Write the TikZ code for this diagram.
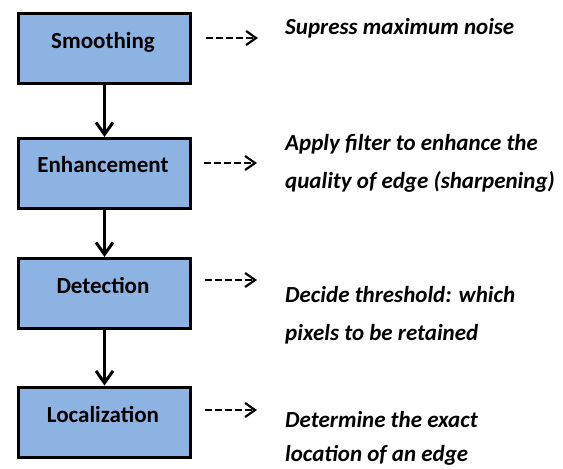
\documentclass[tikz,border=0pt]{standalone}
\usepackage{fontspec}
\setmainfont{Carlito}
\usetikzlibrary{arrows.meta}
\definecolor{boxblue}{HTML}{8DB3E2}
\begin{document}
\begin{tikzpicture}[x=1pt,y=-1pt,
  stage/.style={draw=black, line width=3pt, fill=boxblue, minimum width=172pt, minimum height=70pt, inner sep=0pt},
  stagetext/.style={anchor=base, inner sep=0pt, font=\fontsize{23}{27}\selectfont\bfseries},
  flow/.style={line width=3pt, -{Straight Barb[length=12pt,width=17pt,line width=3pt]}},
  hint/.style={line width=2.2pt, dash pattern=on 6.5pt off 3.5pt, -{Straight Barb[length=10pt,width=14pt,line width=2.2pt]}},
  desc/.style={anchor=base west, align=left, inner sep=0pt, font=\fontsize{23}{38}\selectfont\bfseries\itshape}]
\useasboundingbox (0,0) rectangle (563,469);
\fill[white] (0,0) rectangle (563,469);
% boxes
\node[stage] (s1) at (104.5,48.5) {};
\node[stage] (s2) at (104.5,173.5) {};
\node[stage] (s3) at (104.5,293.5) {};
\node[stage] (s4) at (104.5,422) {};
\node[stagetext] (t1) at (103,48) {Smoothing};
\node[stagetext] (t2) at (103,172) {Enhancement};
\node[stagetext] (t3) at (103,293) {Detection};
\node[stagetext] (t4) at (103,422) {Localization};
% flow arrows
\draw[flow] (s1) -- (s2);
\draw[flow] (s2) -- (s3);
\draw[flow] (s3) -- (s4);
% dashed hints
\coordinate (h1a) at (206,38);  \coordinate (h1b) at (258,38);
\coordinate (h2a) at (204,163); \coordinate (h2b) at (257,163);
\coordinate (h3a) at (205,280); \coordinate (h3b) at (257,280);
\coordinate (h4a) at (205,410); \coordinate (h4b) at (257,410);
\draw[hint] (h1a) -- (h1b);
\draw[hint] (h2a) -- (h2b);
\draw[hint] (h3a) -- (h3b);
\draw[hint] (h4a) -- (h4b);
% descriptions
\node[desc] (d1) at (285,34) {Supress maximum noise};
\node[desc] (d2) at (285,188) {Apply filter to enhance the\\quality of edge (sharpening)};
\node[desc] (d3) at (285,340) {Decide threshold: which\\pixels to be retained};
\node[desc, font=\fontsize{23}{34}\selectfont\bfseries\itshape] (d4) at (285,461) {Determine the exact\\location of an edge};
\end{tikzpicture}
\end{document}
